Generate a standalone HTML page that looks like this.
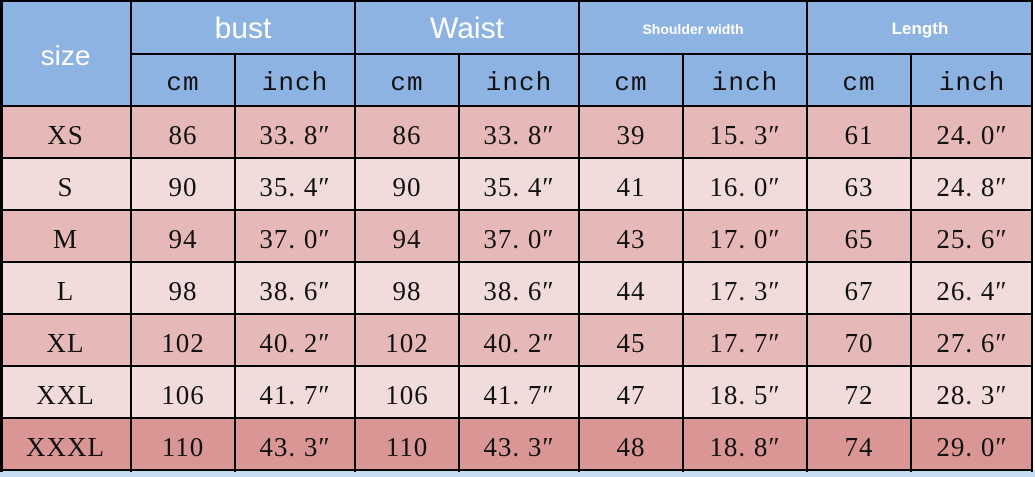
<!DOCTYPE html><html><head><meta charset="utf-8"><style>
body{margin:0;width:1035px;height:477px;overflow:hidden;background:#fff;position:relative;font-family:"Liberation Serif","Noto Serif CJK SC",serif}
.c{position:absolute;display:flex;align-items:center;justify-content:center;font-size:26px;color:#111;letter-spacing:1px}
.h{background:#8db3e2;color:#fff;font-family:"Liberation Sans","Noto Sans CJK SC",sans-serif;letter-spacing:0}
.l{position:absolute;background:#000}
</style></head><body>
<div style="position:absolute;left:0;top:470px;width:1035px;height:7px;background:#c6daf2"></div>
<div id="t"></div>
<script>
var xs=[0,131,235,355,459,579,683,807,911,1033];
var ys=[0,54,106,158,210,262,314,366,418,470];
var rows=[["XS",86,"33.8",86,"33.8",39,"15.3",61,"24.0"],["S",90,"35.4",90,"35.4",41,"16.0",63,"24.8"],["M",94,"37.0",94,"37.0",43,"17.0",65,"25.6"],["L",98,"38.6",98,"38.6",44,"17.3",67,"26.4"],["XL",102,"40.2",102,"40.2",45,"17.7",70,"27.6"],["XXL",106,"41.7",106,"41.7",47,"18.5",72,"28.3"],["XXXL",110,"43.3",110,"43.3",48,"18.8",74,"29.0"]];
var h="";
function cell(x0,x1,y0,y1,txt,cls,st){h+='<div class="c '+(cls||'')+'" style="left:'+x0+'px;top:'+y0+'px;width:'+(x1-x0)+'px;height:'+(y1-y0)+'px;'+(st||'')+'">'+txt+'</div>';}
cell(0,131,0,106,"size","h","font-size:28px;padding-top:6px;box-sizing:border-box;");
var tops=[["bust",30],["Waist",30],["Shoulder width",14],["Length",17]];
for(var i=0;i<4;i++){var w=tops[i][1]<20?"font-weight:bold;":"";cell(xs[1+2*i],xs[3+2*i],0,54,tops[i][0],"h","font-size:"+tops[i][1]+"px;"+w+"padding-top:4px;box-sizing:border-box;");
cell(xs[1+2*i],xs[2+2*i],54,106,"cm","h","color:#111;font-family:'Liberation Mono',monospace;font-size:26px;padding-top:6px;box-sizing:border-box;letter-spacing:1px;");
cell(xs[2+2*i],xs[3+2*i],54,106,"inch","h","color:#111;font-family:'Liberation Mono',monospace;font-size:26px;padding-top:6px;box-sizing:border-box;letter-spacing:1px;");}
for(var r=0;r<7;r++){var bg=r==6?"#da9694":(r%2==0?"#e6b8b7":"#f2dcdb");
for(var c=0;c<9;c++){var t=rows[r][c];if(typeof t=="string"&&t.indexOf(".")>0)t=t.replace(".",".&nbsp;")+"″";
cell(xs[c],xs[c+1],ys[r+2],ys[r+3],t,"","background:"+bg+";padding-top:6px;box-sizing:border-box;font-size:27px;");}}
for(var i=0;i<xs.length;i++){var tp=0;if(i==2||i==4||i==6||i==8)tp=54;var x=xs[i]-1;if(i==0)x=0;if(i==9)x=1031;h+='<div class="l" style="left:'+x+'px;top:'+tp+'px;width:'+(i==0?3:2)+'px;height:'+(472-tp)+'px"></div>';}
for(var j=0;j<ys.length;j++){var lf=0;if(j==1)lf=131;var y=ys[j]-1;if(j==0)y=0;h+='<div class="l" style="left:'+lf+'px;top:'+y+'px;width:'+(1033-lf)+'px;height:2px"></div>';}
document.getElementById("t").innerHTML=h;
</script>
</body></html>
